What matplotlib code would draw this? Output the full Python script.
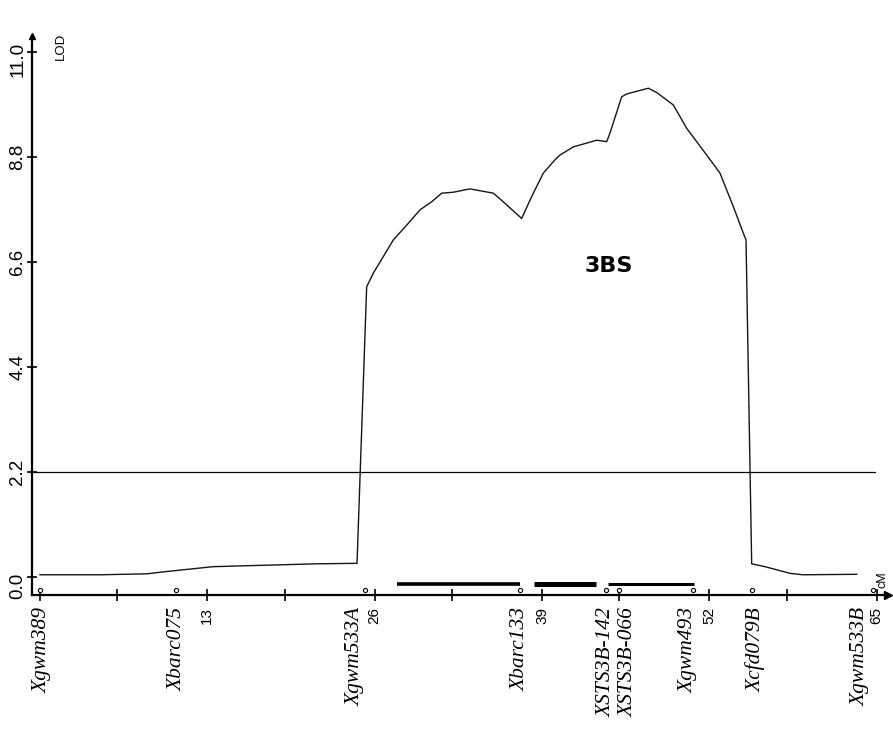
import matplotlib
matplotlib.use("Agg")
import matplotlib.pyplot as plt
import matplotlib.transforms as mtransforms

# ---------------- data ----------------
pos_cm = [0, 4.66, 8.31, 9.56, 13.44, 21.52, 24.63, 25.38, 25.89, 26.67, 27.45,
          28.49, 29.52, 30.43, 31.21, 32.11, 33.41, 35.22, 35.99, 37.42, 38.20,
          39.10, 40.01, 40.40, 41.43, 43.25, 44.03, 44.28, 45.19, 45.58, 47.26,
          47.91, 49.20, 50.24, 51.79, 52.83, 53.86, 54.64, 54.85, 55.29, 56.32,
          58.27, 59.28, 63.45]
lod = [0.04, 0.04, 0.06, 0.10, 0.21, 0.27, 0.28, 6.08, 6.36, 6.71, 7.06,
       7.37, 7.69, 7.86, 8.04, 8.06, 8.13, 8.04, 7.86, 7.51, 7.97,
       8.46, 8.74, 8.84, 9.01, 9.15, 9.12, 9.30, 10.06, 10.12, 10.24,
       10.15, 9.89, 9.40, 8.84, 8.46, 7.76, 7.20, 7.06, 0.27, 0.21,
       0.07, 0.04, 0.05]

threshold = 2.2

marker_names = ["Xgwm389", "Xbarc075", "Xgwm533A", "Xbarc133", "XSTS3B-142",
                "XSTS3B-066", "Xgwm493", "Xcfd079B", "Xgwm533B"]
marker_cm = [0, 10.6, 25.25, 37.3, 44.0, 45.0, 50.7, 55.3, 64.7]

# confidence intervals (start, end)
ci_start = [27.7, 38.4, 44.15]
ci_end = [37.3, 43.2, 50.8]
ci_level = -0.15

y_ticks = [0.0, 2.2, 4.4, 6.6, 8.8, 11.0]
y_ticklabels = ["0.0", "2.2", "4.4", "6.6", "8.8", "11.0"]
x_major = [0, 13, 26, 39, 52, 65]
x_major_labels = ["", "13", "26", "39", "52", "65"]
x_minor = [6, 19, 32, 45, 58]

chrom_label = "3BS"

# ---------------- layout ----------------
W, H = 893, 731
fig = plt.figure(figsize=(W / 100, H / 100), dpi=100)
ax_left_px, ax_right_px, ax_top_px, ax_bot_px = 32, 888, 36, 595
ax = fig.add_axes([ax_left_px / W, (H - ax_bot_px) / H,
                   (ax_right_px - ax_left_px) / W, (ax_bot_px - ax_top_px) / H])
ax.set_xlim(-0.62, 65.88)
ax.set_ylim(-0.384, 11.335)

for s in ["top", "right"]:
    ax.spines[s].set_visible(False)
for s in ["left", "bottom"]:
    ax.spines[s].set_linewidth(1.6)
    ax.spines[s].set_color("black")

# arrows
ax.plot([1], [0], marker=">", ms=6, color="black", transform=ax.transAxes, clip_on=False)
ax.plot([0], [1], marker="^", ms=5, color="black", transform=ax.transAxes, clip_on=False)

# curve
ax.plot(pos_cm, lod, color="#151515", lw=1.0, clip_on=False)

# threshold
ax.plot([ax.get_xlim()[0], 64.87], [threshold, threshold], color="black", lw=0.9)

# CI bars
for (a, b, lw) in zip(ci_start, ci_end, [2.6, 3.6, 2.2]):
    ax.plot([a, b], [ci_level, ci_level], color="black", lw=lw, solid_capstyle="butt",
            clip_on=False)

# y ticks
ax.set_yticks(y_ticks)
ax.set_yticklabels(y_ticklabels, rotation=90, va="center",
                   fontfamily="Liberation Sans", fontsize=13.5)
ax.tick_params(axis="y", direction="inout", length=7.2, width=1.2, pad=0.5)
# small vertical nudges of end labels, as in the original
ylabel_dy_px = {"0.0": -9, "11.0": -7}
for lab in ax.get_yticklabels():
    dy = ylabel_dy_px.get(lab.get_text(), 0)
    if dy:
        lab.set_transform(lab.get_transform() +
                          mtransforms.ScaledTranslation(0, dy / 100, fig.dpi_scale_trans))

# x ticks
ax.set_xticks(x_major)
ax.set_xticklabels(x_major_labels, rotation=90, va="top", ha="center",
                   fontfamily="Liberation Sans", fontsize=11)
ax.set_xticks(x_minor, minor=True)
ax.tick_params(axis="x", which="both", direction="inout", length=8, width=1.2, pad=4.3)

# marker symbols on axis
ax.plot(marker_cm, [-0.27] * len(marker_cm), ls="none", marker="o", ms=3,
        mfc="white", mec="black", mew=0.8, clip_on=False)

# marker labels
label_dx_px = [2, 1, -10, 0, 0, 9, -4, 4, -13]
for name, pos, dx in zip(marker_names, marker_cm, label_dx_px):
    ax.annotate(name, xy=(pos, ax.get_ylim()[0]), xycoords="data",
                xytext=(dx * 0.72, -12 * 0.72), textcoords="offset points",
                rotation=90, ha="center", va="top",
                fontfamily="Liberation Serif", fontstyle="italic", fontsize=15.5)

# axis titles
fig.text(61 / W, 1 - 46 / H, "LOD", rotation=90, ha="center", va="center",
         fontfamily="Liberation Sans", fontsize=9.5)
fig.text(882 / W, 1 - 580 / H, "cM", rotation=90, ha="center", va="center",
         fontfamily="Liberation Sans", fontsize=9)

# chromosome label
ax.text(44.2, 6.51, chrom_label, ha="center", va="center",
        fontfamily="DejaVu Sans", fontweight="bold", fontsize=16)

fig.savefig("out.png", dpi=100)
